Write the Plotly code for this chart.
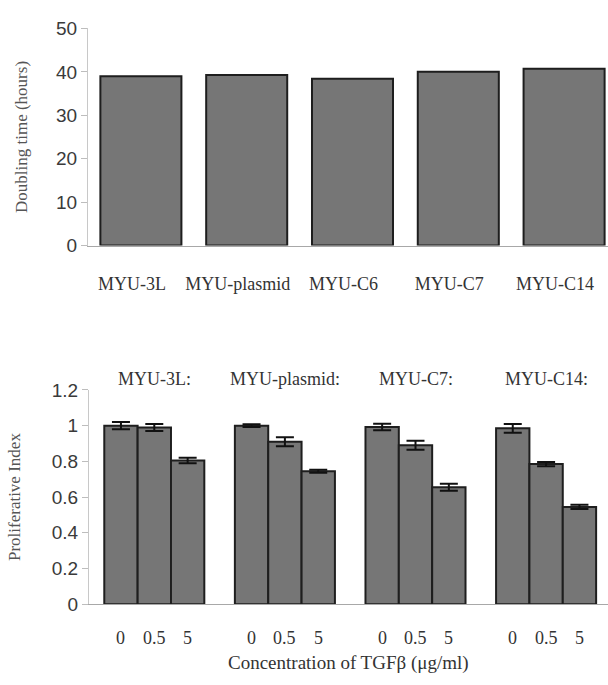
import plotly.graph_objects as go

# Top chart data
cell_lines = ["MYU-3L", "MYU-plasmid", "MYU-C6", "MYU-C7", "MYU-C14"]
doubling_time = [39.0, 39.3, 38.4, 40.0, 40.7]

# Bottom chart data
groups = ["MYU-3L:", "MYU-plasmid:", "MYU-C7:", "MYU-C14:"]
concentrations = ["0", "0.5", "5"]
prolif_0 = [1.0, 1.0, 0.993, 0.985]
prolif_05 = [0.99, 0.91, 0.89, 0.785]
prolif_5 = [0.805, 0.745, 0.655, 0.545]
err_0 = [0.02, 0.008, 0.018, 0.025]
err_05 = [0.02, 0.025, 0.025, 0.012]
err_5 = [0.015, 0.008, 0.02, 0.012]

W, H = 608, 685
FILL = "#767676"
EDGE = "#1e1e1e"
SERIF = "Liberation Serif, Times New Roman, serif"
SANS = "Liberation Sans, Arial, sans-serif"

def py(p):
    return 1 - p / H

fig = go.Figure()

fig.add_trace(go.Bar(
    x=list(range(len(cell_lines))), y=doubling_time,
    marker=dict(color=FILL, line=dict(color=EDGE, width=2)),
    xaxis="x", yaxis="y", showlegend=False,
))

vals = [prolif_0, prolif_05, prolif_5]
errs = [err_0, err_05, err_5]
for k, conc in enumerate(concentrations):
    fig.add_trace(go.Bar(
        x=list(range(len(groups))), y=vals[k], name=conc,
        marker=dict(color=FILL, line=dict(color=EDGE, width=2)),
        error_y=dict(type="data", array=errs[k], visible=True,
                     color="#111", thickness=2, width=9),
        xaxis="x2", yaxis="y2", showlegend=False,
    ))

bargap2 = 0.234
bw = (1 - bargap2) / len(concentrations)

annotations = []
for g, name in enumerate(groups):
    annotations.append(dict(
        x=g, y=py(381), xref="x2", yref="paper", text=name, showarrow=False,
        font=dict(family=SERIF, size=18, color="#333"), xanchor="center", yanchor="middle"))
    for k, conc in enumerate(concentrations):
        annotations.append(dict(
            x=g + (k - 1) * bw, y=py(648), xref="x2", yref="paper", text=conc,
            showarrow=False, font=dict(family=SERIF, size=18, color="#333"),
            xanchor="center", yanchor="middle"))
annotations.append(dict(
    x=0.5 * (89 / W + 1), y=py(674), xref="paper", yref="paper",
    text="Concentration of TGFβ (μg/ml)", showarrow=False,
    font=dict(family=SERIF, size=19, color="#333"), xanchor="center", yanchor="middle"))

fig.update_layout(
    width=W, height=H,
    margin=dict(l=0, r=0, t=0, b=0),
    paper_bgcolor="white", plot_bgcolor="white",
    barmode="group", bargap=bargap2, bargroupgap=0,
    annotations=annotations,
    xaxis=dict(
        domain=[88 / W, 1], range=[-0.5, 4.415], anchor="y",
        tickvals=list(range(len(cell_lines))), ticktext=cell_lines,
        tickfont=dict(family=SERIF, size=18, color="#333"),
        ticks="", ticklabelstandoff=22, ticklabelshift=-9,
        showline=True, linecolor="#a8a8a8", linewidth=1,
        showgrid=False, zeroline=False,
    ),
    yaxis=dict(
        domain=[py(243), py(19)], range=[0, 50], anchor="x",
        tickvals=[0, 10, 20, 30, 40, 50],
        tickfont=dict(family=SANS, size=19, color="#3a3a3a"),
        ticks="outside", ticklen=6, tickcolor="#bdbdbd",
        showline=True, linecolor="#c8c8c8", linewidth=1,
        showgrid=False, zeroline=False,
        title=dict(text="Doubling time (hours)", standoff=24,
                   font=dict(family=SERIF, size=17, color="#555")),
    ),
    xaxis2=dict(
        domain=[89 / W, 1], range=[-0.5, 3.474], anchor="y2",
        showticklabels=False, ticks="",
        showline=True, linecolor="#a8a8a8", linewidth=1,
        showgrid=False, zeroline=False,
    ),
    yaxis2=dict(
        domain=[py(613), py(392)], range=[0, 1.2], anchor="x2",
        tickvals=[0, 0.2, 0.4, 0.6, 0.8, 1, 1.2],
        ticktext=["0", "0.2", "0.4", "0.6", "0.8", "1", "1.2"],
        tickfont=dict(family=SANS, size=19, color="#3a3a3a"),
        ticks="outside", ticklen=6, tickcolor="#bdbdbd",
        showline=True, linecolor="#c8c8c8", linewidth=1,
        showgrid=False, zeroline=False,
        title=dict(text="Proliferative Index", standoff=26,
                   font=dict(family=SERIF, size=17, color="#555")),
    ),
)

fig.write_html("out.html",
               config={"displayModeBar": False},
               post_script="document.body.style.margin='0';document.body.style.overflow='hidden';")
